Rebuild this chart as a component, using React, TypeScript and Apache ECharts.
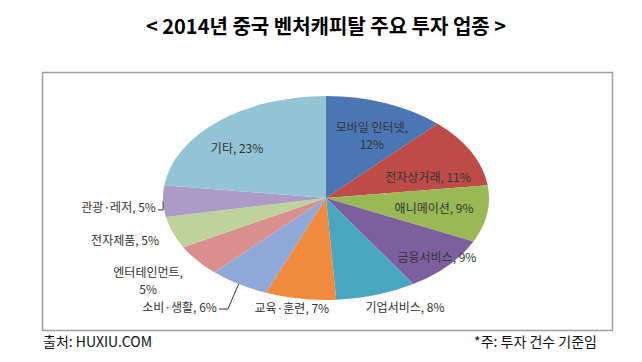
import React, { useEffect, useRef } from "react";
import * as echarts from "echarts";

const categories = ["모바일 인터넷", "전자상거래", "애니메이션", "금융서비스", "기업서비스", "교육·훈련", "소비·생활", "엔터테인먼트", "전자제품", "관광·레저", "기타"];
const shares = [12, 11, 9, 9, 8, 7, 6, 5, 5, 5, 23];
const title = "< 2014년 중국 벤처캐피탈 주요 투자 업종 >";
const sourceText = "출처: HUXIU.COM";
const noteText = "*주: 투자 건수 기준임";

// styling / layout (not data)
const colors = ["#4A76B4", "#BE4B48", "#98B954", "#7D5FA0", "#4BA6C2", "#F08A3C", "#90A8D8", "#D98F8D", "#BDD39A", "#AC9CC5", "#92C4D6"];
const labelShift = [2.9, 8, -1.4, -1.5, -6.6, 2.1, -0.1, 1.4, 1.7, -3.0, -6.1];
const labelRadius = [0.679, 0.662, 0.669, 0.887, 1.165, 1.089, 1.253, 1.356, 1.297, 1.047, 0.74];
const labelAlign = ["center", "center", "center", "center", "center", "center", "right", "center", "center", "right", "center"];
const labelBreak = [true, false, false, false, false, false, false, true, false, false, false];
const leader = [false, false, false, false, false, false, true, false, false, true, false];

const FONT = "'Noto Sans CJK KR', 'Noto Sans', sans-serif";

export default function App() {
  const ref = useRef<HTMLDivElement>(null);
  useEffect(() => {
    document.body.style.margin = "0";
    const chart = echarts.init(ref.current!, null, { renderer: "svg" });
    const total = shares.reduce((a, b) => a + b, 0);
    const cx = 326, cy = 198, rx = 163, ry = 102;
    const option: any = {
      animation: false,
      graphic: [
        { type: "rect", shape: { x: 42.5, y: 72.5, width: 570, height: 258 }, style: { fill: "#fff", stroke: "#a0a0a0", lineWidth: 1.5 }, z: -10 },
        { type: "text", x: 326, y: 25, style: { text: title, fontSize: 20, fontWeight: "bold", fontFamily: FONT, fill: "#000", align: "center", verticalAlign: "middle", textAlign: "center", textVerticalAlign: "middle" } },
        { type: "text", x: 43, y: 341, style: { text: sourceText, fontSize: 14, fontFamily: FONT, fill: "#111", align: "left", verticalAlign: "middle", textAlign: "left", textVerticalAlign: "middle" } },
        { type: "text", x: 597, y: 341, style: { text: noteText, fontSize: 14, fontFamily: FONT, fill: "#111", align: "right", verticalAlign: "middle", textAlign: "right", textVerticalAlign: "middle" } },
      ],
      series: [
        {
          type: "custom",
          coordinateSystem: "none",
          data: shares.map((v, i) => [v, i]),
          renderItem: (params: any, api: any) => {
            const i = params.dataIndex;
            const v = api.value(0);
            let before = 0;
            for (let k = 0; k < i; k++) before += shares[k];
            const f0 = before / total;
            const f1 = (before + v) / total;
            const a0 = -Math.PI / 2 + 2 * Math.PI * f0;
            const a1 = -Math.PI / 2 + 2 * Math.PI * f1;
            const midDeg = ((f0 + f1) / 2) * 360;
            const th = ((midDeg + labelShift[i]) * Math.PI) / 180;
            const lr = labelRadius[i];
            const lx = cx + Math.sin(th) * rx * lr;
            const ly = cy - Math.cos(th) * ry * lr;
            const text = labelBreak[i] ? `${categories[i]},\n${v}%` : `${categories[i]}, ${v}%`;
            const children: any[] = [
              {
                type: "sector",
                x: cx,
                y: cy,
                scaleX: rx / ry,
                scaleY: 1,
                shape: { cx: 0, cy: 0, r: ry, r0: 0, startAngle: a0, endAngle: a1, clockwise: true },
                style: { fill: colors[i] },
              },
              {
                type: "text",
                x: lx,
                y: ly,
                z2: 10,
                style: {
                  text,
                  fontSize: 12,
                  fontFamily: FONT,
                  fill: "#333",
                  align: labelAlign[i],
                  textAlign: labelAlign[i],
                  verticalAlign: "middle",
                  textVerticalAlign: "middle",
                  lineHeight: 17,
                },
              },
            ];
            if (leader[i]) {
              const mt = (midDeg * Math.PI) / 180;
              const ex = cx + Math.sin(mt) * rx;
              const ey = cy - Math.cos(mt) * ry;
              children.push({
                type: "polyline",
                z2: 10,
                shape: { points: [[lx + 2, ly + 3], [Math.min(lx + 11, ex), ly + 3], [ex, ey]] },
                style: { stroke: "#333", lineWidth: 1, fill: null },
              });
            }
            return { type: "group", children };
          },
        },
      ],
    };
    chart.setOption(option);
    return () => chart.dispose();
  }, []);
  return <div ref={ref} style={{ width: 642, height: 362 }} />;
}
